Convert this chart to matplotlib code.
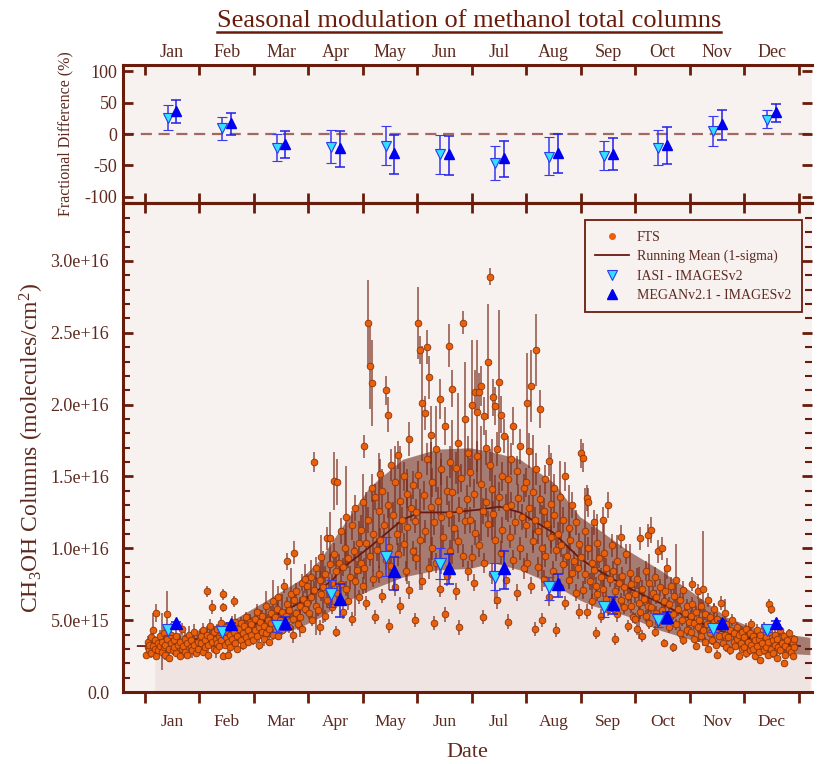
import numpy as np
import matplotlib
matplotlib.use("Agg")
import matplotlib.pyplot as plt
from matplotlib.lines import Line2D
from matplotlib.ticker import FixedLocator, FuncFormatter, MultipleLocator

plt.rcParams['font.family'] = ['Liberation Serif', 'DejaVu Serif']
plt.rcParams['mathtext.fontset'] = 'custom'
plt.rcParams['mathtext.rm'] = 'Liberation Serif'
plt.rcParams['mathtext.it'] = 'Liberation Serif:italic'
plt.rcParams['axes.unicode_minus'] = False

months = ['Jan', 'Feb', 'Mar', 'Apr', 'May', 'Jun',
          'Jul', 'Aug', 'Sep', 'Oct', 'Nov', 'Dec']
month_pos = np.arange(12) + 0.5

# FTS total columns: (day of year, column [1e15 molec/cm2], 1-sigma error [1e15])
fts_jan = [(1,2.6,0.2),(2,3.1,0.3),(2,3.5,0.4),(3,2.9,0.2),(3,3.3,0.5),(4,3.8,0.3),(4,2.7,0.3),(5,3.2,0.2),
           (5,4.3,1.2),(6,3.0,0.4),(6,3.6,0.3),(7,2.5,0.2),(7,5.5,0.6),(8,3.4,0.3),(8,2.9,0.5),(9,3.9,0.4),
           (9,3.2,0.2),(10,2.8,0.3),(10,3.5,2.0),(11,3.1,0.3),(11,4.1,0.5),(12,2.6,0.4),(12,3.3,0.3),(13,5.4,1.6),
           (13,3.7,0.6),(14,3.0,0.2),(14,2.4,0.3),(15,3.4,0.4),(15,4.0,0.8),(16,2.9,0.3),(17,3.6,0.3),(17,3.1,0.5),
           (18,2.7,0.2),(18,3.9,0.4),(19,3.3,0.3),(20,2.5,0.3),(20,3.5,0.6),(21,4.4,0.4),(21,3.0,0.3),(22,3.2,0.2),
           (23,2.8,0.4),(23,3.7,0.5),(24,3.4,0.3),(24,2.6,0.2),(25,4.0,0.6),(26,3.1,0.3),(26,3.6,0.4),(27,2.9,0.5),
           (28,3.3,0.3),(28,4.2,0.5),(29,2.7,0.2),(30,3.5,0.4),(30,3.0,0.3),(31,3.8,0.6)]
fts_feb = [(32,3.4,0.3),(32,3.9,0.4),(33,2.8,0.3),(33,4.3,0.5),(34,3.6,0.3),(34,3.1,0.2),(35,7.0,0.4),(35,4.0,0.6),
           (36,3.3,0.3),(36,2.6,0.4),(37,3.8,0.3),(37,4.6,0.5),(38,5.9,0.5),(38,3.5,0.3),(39,3.0,0.3),(39,4.2,0.4),
           (40,3.7,0.2),(40,2.9,0.5),(41,4.4,0.3),(41,3.4,0.3),(42,3.9,0.6),(42,3.2,0.3),(43,4.8,0.4),(43,3.6,0.3),
           (44,6.8,0.4),(44,5.9,0.3),(44,2.5,0.3),(45,4.1,0.5),(45,3.3,0.2),(46,3.8,0.3),(46,4.5,0.4),(47,2.6,0.3),
           (47,3.5,0.5),(48,4.0,0.3),(48,3.1,0.4),(49,4.7,0.6),(49,3.7,0.3),(50,6.3,0.4),(50,4.2,0.3),(51,3.4,0.3),
           (51,4.9,0.5),(52,3.9,0.4),(52,3.0,0.3),(53,4.4,0.3),(54,3.6,0.6),(54,4.8,0.4),(55,4.1,0.3),(55,3.3,0.4),
           (56,4.6,0.5),(57,3.8,0.3),(57,5.2,0.4),(58,4.3,0.3),(58,3.5,0.3),(59,4.9,0.5)]
fts_mar = [(60,4.0,0.4),(60,4.7,0.5),(61,3.6,0.3),(62,5.1,0.6),(62,4.3,0.3),(63,3.9,0.4),(63,5.6,0.5),(64,4.5,0.3),
           (64,3.3,0.4),(65,4.9,0.8),(66,4.2,0.3),(66,5.3,0.4),(67,3.7,0.5),(67,4.6,0.3),(68,6.0,1.0),(68,4.1,0.3),
           (69,5.0,0.4),(70,4.4,0.6),(70,3.5,0.3),(71,5.5,0.5),(71,4.8,0.3),(72,6.3,1.5),(72,4.0,0.4),(73,5.2,0.3),
           (74,4.6,0.5),(74,5.8,0.4),(75,3.9,0.3),(75,6.6,0.8),(76,5.0,0.4),(77,4.3,0.3),(77,5.6,1.2),(78,7.4,0.5),
           (78,4.8,0.4),(79,5.3,0.3),(80,9.1,0.6),(80,6.1,0.5),(81,4.5,0.4),(81,5.7,0.3),(82,6.8,1.8),(83,5.1,0.4),
           (83,4.0,0.6),(84,9.7,0.8),(84,6.4,0.5),(85,5.5,0.3),(85,7.0,0.6),(86,4.7,0.4),(87,6.0,0.5),(87,5.2,1.4),
           (88,7.6,0.6),(88,4.4,0.3),(89,6.5,0.5),(90,5.8,0.4),(90,7.9,1.0)]
fts_apr = [(91,6.2,0.5),(91,7.4,0.8),(92,5.5,0.4),(93,8.0,1.2),(93,6.6,0.5),(94,5.0,0.4),(95,16.0,0.7),(95,7.1,0.6),
           (96,6.0,2.0),(96,8.6,0.8),(97,5.7,0.4),(98,7.8,0.6),(98,4.5,0.5),(99,9.4,1.5),(99,6.8,0.5),(100,7.3,2.5),
           (101,5.3,0.4),(101,8.2,0.6),(102,10.7,0.8),(102,6.4,0.5),(103,7.0,1.0),(104,10.7,1.8),(104,8.9,0.7),
           (105,5.9,0.5),(105,7.6,0.6),(106,14.7,2.0),(106,9.6,0.8),(107,4.2,0.4),(107,8.4,1.0),(108,14.6,1.6),
           (108,6.9,0.5),(109,9.0,0.6),(110,7.5,1.4),(110,11.2,0.9),(111,5.6,0.5),(111,8.7,0.6),(112,10.0,1.2),
           (113,7.2,0.5),(113,12.2,3.5),(114,9.3,0.7),(114,6.3,0.6),(115,8.0,0.8),(116,11.6,1.0),(116,5.1,0.5),
           (117,9.8,0.7),(118,7.7,2.4),(118,12.8,0.9),(119,8.5,0.6),(120,10.4,1.5),(120,6.6,0.5)]
fts_may = [(121,9.0,0.8),(121,11.3,1.0),(122,7.4,0.6),(122,13.2,2.0),(123,17.1,0.8),(123,8.6,0.7),(124,10.4,3.5),
           (124,6.2,0.5),(125,12.0,0.9),(125,25.7,3.0),(126,22.7,3.0),(126,9.5,0.7),(127,21.5,3.0),(127,14.2,1.0),
           (128,7.9,0.6),(128,11.0,2.6),(129,5.2,0.5),(129,13.6,0.9),(130,9.9,0.8),(131,12.6,4.0),(131,8.2,0.6),
           (132,15.2,1.0),(132,10.6,0.8),(133,6.7,0.5),(133,14.0,1.5),(134,11.6,0.8),(135,21.0,1.0),(135,9.2,0.7),
           (136,19.3,1.2),(136,13.0,0.9),(137,4.6,0.5),(137,10.1,3.0),(138,15.8,1.1),(138,8.8,0.7),(139,12.3,0.9),
           (140,7.3,0.6),(140,14.6,2.5),(141,11.0,0.8),(142,16.5,1.0),(142,9.6,0.8),(143,13.3,3.8),(143,6.0,0.6),
           (144,12.0,0.9),(145,10.3,0.8),(145,15.0,1.0),(146,8.4,0.7),(147,13.8,1.0),(147,11.5,4.0),(148,17.6,1.2),
           (148,7.1,0.6),(149,12.8,0.9),(150,9.8,0.7),(150,14.4,1.0),(151,5.0,0.5),(151,11.9,0.8)]
fts_jun = [(152,12.5,0.9),(152,9.3,0.8),(153,25.7,2.5),(153,15.1,1.0),(154,23.8,1.0),(154,10.6,3.5),(155,20.1,4.0),
           (155,7.7,0.6),(156,13.7,1.0),(157,19.4,1.2),(157,11.2,0.8),(158,24.0,1.2),(158,16.2,1.1),(159,21.9,1.5),
           (159,8.6,0.7),(160,17.9,2.0),(160,12.9,4.5),(161,10.0,0.8),(161,14.6,1.0),(162,4.8,0.5),(162,11.8,0.9),
           (163,16.9,3.0),(163,9.0,0.7),(164,13.3,1.0),(165,20.4,1.4),(165,7.2,0.6),(166,15.5,1.1),(166,12.2,4.0),
           (167,10.8,0.8),(168,18.5,1.3),(168,5.4,0.5),(169,14.0,1.0),(169,8.1,0.7),(170,24.1,1.5),(170,12.4,0.9),
           (171,16.0,1.1),(171,9.8,0.8),(172,21.1,1.3),(172,13.9,5.0),(173,11.4,0.9),(174,7.0,0.6),(174,15.6,1.1),
           (175,17.3,3.5),(175,10.5,0.8),(176,12.7,0.9),(176,4.5,0.5),(177,14.9,1.0),(178,25.7,0.8),(178,9.5,0.8),
           (179,19.0,4.0),(179,11.9,0.9),(180,13.4,1.0),(181,16.6,1.2),(181,8.4,0.7)]
fts_jul = [(182,12.0,0.9),(182,15.3,1.0),(183,9.4,0.8),(183,20.0,4.5),(184,13.8,1.0),(184,7.6,0.6),(185,20.9,1.5),
           (185,11.1,0.9),(186,19.5,5.0),(186,16.4,1.1),(187,20.9,1.3),(187,10.2,0.8),(188,21.3,1.4),(188,14.5,4.0),
           (189,12.6,0.9),(189,5.2,0.5),(190,19.2,1.3),(190,9.0,0.7),(191,17.0,1.2),(191,13.2,1.0),(192,23.0,4.0),
           (192,11.7,0.9),(193,28.9,0.6),(193,15.8,1.1),(194,8.2,0.7),(194,14.1,3.5),(195,20.5,1.3),(195,12.4,0.9),
           (196,19.9,1.3),(196,10.6,4.5),(197,16.9,1.2),(197,6.4,0.6),(198,21.6,5.0),(198,13.6,1.0),(199,19.3,1.3),
           (199,9.7,0.8),(200,15.0,1.0),(200,11.3,0.9),(201,17.8,1.2),(202,12.9,0.9),(202,7.8,0.6),(203,14.8,3.0),
           (203,4.9,0.5),(204,10.8,0.8),(205,16.2,1.1),(205,13.0,0.9),(206,9.2,0.7),(206,18.5,1.3),(207,11.8,0.9),
           (208,15.4,1.0),(208,6.9,0.6),(209,13.5,1.0),(210,10.0,0.8),(210,17.1,1.2),(211,12.2,0.9),(212,14.2,1.0),
           (212,8.6,0.7)]
fts_aug = [(213,11.6,0.9),(213,14.6,1.0),(214,9.0,0.7),(214,20.1,3.5),(215,12.8,0.9),(215,16.8,1.2),(216,7.4,0.6),
           (216,21.3,2.5),(217,10.5,0.8),(217,13.9,4.0),(218,4.4,0.5),(218,12.0,0.9),(219,23.8,2.5),(219,15.5,1.1),
           (220,8.7,0.7),(220,11.2,0.9),(221,19.7,1.3),(221,13.4,1.0),(222,5.0,0.5),(222,10.0,3.0),(223,12.6,0.9),
           (223,7.9,0.6),(224,14.8,1.0),(224,9.5,0.8),(225,11.7,0.9),(226,16.1,1.1),(226,6.6,0.6),(227,10.8,0.8),
           (227,13.1,3.5),(228,8.4,0.7),(229,12.3,0.9),(229,14.2,1.0),(230,9.9,0.8),(230,4.3,0.5),(231,11.0,0.8),
           (232,7.3,0.6),(232,13.6,2.5),(233,10.2,0.8),(234,8.9,0.7),(234,12.0,0.9),(235,15.0,1.0),(235,6.2,0.5),
           (236,9.5,0.7),(237,11.4,3.0),(237,7.8,0.6),(238,10.6,0.8),(239,8.3,0.7),(239,13.0,0.9),(240,9.1,0.7),
           (241,6.9,0.6),(241,11.8,0.9),(242,8.6,0.7),(243,10.3,0.8),(243,5.6,0.5)]
fts_sep = [(244,9.4,0.8),(244,16.6,1.0),(245,7.1,0.6),(245,16.3,1.0),(246,11.2,3.0),(246,8.2,0.7),(247,13.5,0.9),
           (247,5.6,0.5),(248,13.2,1.0),(248,10.0,0.8),(249,7.7,0.6),(250,9.0,2.5),(250,6.3,0.5),(251,11.8,0.9),
           (251,8.5,0.7),(252,4.1,0.4),(252,7.4,0.6),(253,10.4,2.0),(253,6.8,0.5),(254,9.3,0.7),(255,8.0,0.6),
           (255,5.3,0.5),(256,12.0,0.9),(256,7.2,0.6),(257,9.7,2.4),(258,6.5,0.5),(258,8.6,0.7),(259,13.0,0.9),
           (259,5.8,0.5),(260,7.9,0.6),(261,10.2,0.8),(261,6.1,0.5),(262,8.4,0.7),(263,3.7,0.4),(263,7.0,0.6),
           (264,9.1,1.8),(264,5.4,0.5),(265,7.6,0.6),(266,6.4,0.5),(266,10.8,0.8),(267,8.1,0.6),(268,5.9,0.5),
           (268,7.3,0.6),(269,9.6,0.7),(270,6.7,0.5),(270,4.6,0.4),(271,8.3,2.0),(272,6.0,0.5),(272,7.5,0.6),
           (273,5.2,0.4)]
fts_oct = [(274,6.8,0.6),(274,5.1,0.4),(275,7.9,0.7),(275,4.4,0.4),(276,6.2,2.5),(277,10.7,0.8),(277,5.6,0.5),
           (278,7.2,0.6),(278,3.9,0.4),(279,6.5,0.5),(280,8.4,0.7),(280,5.3,0.4),(281,10.9,0.8),(281,6.0,0.5),
           (282,4.8,0.4),(282,7.6,2.0),(283,11.3,0.9),(283,5.9,0.5),(284,6.9,0.5),(285,4.2,0.4),(285,8.0,0.7),
           (286,5.5,0.5),(286,6.6,0.5),(287,9.8,0.8),(287,4.9,0.4),(288,7.3,0.6),(289,10.0,0.8),(289,5.7,0.5),
           (290,3.4,0.3),(290,6.3,0.5),(291,7.0,1.8),(292,5.2,0.4),(292,8.6,0.7),(293,4.5,0.4),(293,6.1,0.5),
           (294,7.4,0.6),(295,5.4,0.4),(295,3.1,0.3),(296,6.7,0.5),(297,4.7,0.4),(297,7.8,2.5),(298,5.8,0.5),
           (299,4.1,0.4),(299,6.4,0.5),(300,5.0,0.4),(301,7.1,0.6),(301,3.6,0.3),(302,5.5,0.4),(303,4.3,0.4),
           (303,6.0,0.5),(304,4.9,0.4)]
fts_nov = [(305,5.3,0.4),(305,4.2,0.3),(306,7.5,0.5),(306,6.1,0.5),(307,3.7,0.3),(307,4.8,0.4),(308,5.6,0.4),
           (308,3.2,0.3),(309,7.0,0.5),(309,4.5,0.4),(310,5.0,1.5),(311,3.9,0.3),(311,6.0,0.5),(312,7.2,4.0),
           (312,4.3,0.3),(313,5.4,0.4),(313,3.5,0.3),(314,4.7,0.4),(315,6.4,0.5),(315,3.0,0.3),(316,4.1,0.3),
           (316,5.2,0.4),(317,3.6,0.3),(318,4.9,1.2),(318,5.8,0.4),(319,3.3,0.3),(319,4.4,0.3),(320,2.6,0.3),
           (320,5.1,0.4),(321,3.9,0.3),(322,4.6,0.4),(322,6.2,0.5),(323,3.4,0.3),(324,4.0,0.3),(324,5.5,1.0),
           (325,3.1,0.3),(325,4.7,0.4),(326,3.8,0.3),(327,4.3,0.3),(327,2.9,0.3),(328,5.0,0.4),(329,3.5,0.3),
           (329,4.1,0.3),(330,3.2,0.3),(331,4.5,0.4),(331,3.7,0.3),(332,2.5,0.3),(332,4.0,0.3),(333,3.4,0.3),
           (334,4.2,0.4),(334,3.0,0.3)]
fts_dec = [(335,3.8,0.3),(335,3.1,0.3),(336,4.4,0.4),(336,2.7,0.3),(337,3.5,0.3),(338,4.1,0.3),(338,2.9,0.3),
           (339,3.3,0.3),(339,4.7,0.4),(340,3.0,0.3),(340,3.9,0.3),(341,2.5,0.3),(341,3.6,0.3),(342,4.3,0.4),
           (342,3.2,0.3),(343,2.8,0.3),(343,3.7,0.3),(344,4.0,0.3),(344,2.2,0.2),(345,3.4,0.3),(346,2.9,0.3),
           (346,4.5,0.4),(347,3.1,0.3),(347,3.8,0.3),(348,2.6,0.3),(348,3.5,0.3),(349,6.1,0.4),(349,4.2,0.3),
           (350,5.8,0.4),(350,3.0,0.3),(351,3.6,0.3),(351,2.7,0.3),(352,3.3,0.3),(352,4.0,0.3),(353,2.4,0.3),
           (353,3.7,0.3),(354,3.1,0.3),(355,4.3,0.4),(355,2.9,0.3),(356,3.4,0.3),(357,3.9,0.3),(357,2.0,0.2),
           (358,3.2,0.3),(358,2.6,0.3),(359,3.6,0.3),(360,3.0,0.3),(360,4.1,0.3),(361,2.8,0.3),(362,3.4,0.3),
           (362,2.5,0.3),(363,3.1,0.3),(363,3.7,0.3)]

# running mean and 1-sigma envelope (x in months, columns in 1e16)
mean_month = [-0.13, 0.18, 0.70, 1.61, 2.24, 2.84, 3.45, 3.58, 4.13, 4.73, 5.05, 5.65, 6.15, 6.51,
              6.88, 7.49, 7.98, 8.22, 8.84, 9.45, 10.06, 10.68, 11.28, 12.02]
mean_col = [0.32, 0.32, 0.35, 0.42, 0.50, 0.62, 0.78, 0.85, 1.01, 1.20, 1.25, 1.25, 1.27, 1.29,
            1.25, 1.11, 0.93, 0.87, 0.73, 0.62, 0.50, 0.41, 0.36, 0.32]
band_month = [0.18, 0.70, 1.61, 2.24, 2.84, 3.21, 3.58, 4.13, 4.73, 5.36, 5.96, 6.39, 6.88,
              7.49, 7.98, 8.22, 8.84, 9.45, 10.06, 10.68, 11.28, 12.2]
band_lo = [0.27, 0.27, 0.34, 0.38, 0.45, 0.52, 0.61, 0.71, 0.80, 0.85, 0.86, 0.90, 0.85,
           0.75, 0.64, 0.60, 0.53, 0.43, 0.36, 0.31, 0.28, 0.26]
band_hi = [0.38, 0.40, 0.50, 0.64, 0.78, 0.92, 1.13, 1.43, 1.62, 1.69, 1.70, 1.67, 1.62,
           1.46, 1.22, 1.16, 0.99, 0.85, 0.69, 0.52, 0.43, 0.38]

# monthly model columns (1e16) with error range
iasi_col = [0.43, 0.42, 0.46, 0.68, 0.94, 0.89, 0.80, 0.73, 0.59, 0.50, 0.44, 0.43]
iasi_lo = [0.40, 0.40, 0.42, 0.59, 0.81, 0.79, 0.71, 0.64, 0.52, 0.45, 0.42, 0.415]
iasi_hi = [0.45, 0.44, 0.49, 0.78, 1.08, 1.00, 0.90, 0.80, 0.63, 0.55, 0.46, 0.445]
megan_col = [0.48, 0.47, 0.48, 0.65, 0.84, 0.86, 0.86, 0.75, 0.61, 0.52, 0.48, 0.48]
megan_lo = [0.45, 0.44, 0.43, 0.52, 0.71, 0.75, 0.72, 0.66, 0.54, 0.47, 0.465, 0.465]
megan_hi = [0.49, 0.48, 0.52, 0.75, 0.94, 0.96, 0.98, 0.82, 0.66, 0.56, 0.495, 0.495]

# fractional difference to FTS (%)
iasi_diff = [26, 9, -22, -20, -19, -32, -46, -36, -35, -22, 5, 23]
iasi_dlo = [7, -9.5, -43, -46, -50, -63, -73, -66, -58, -50, -19, 9.5]
iasi_dhi = [47, 27, -0.5, 7, 13, -1.6, -19, -4, -11, 7, 29, 38]
megan_diff = [37, 18, -16, -23, -30, -32, -38, -30, -32, -17, 16, 35]
megan_dlo = [18, -1.6, -38, -53, -63, -65, -68, -62, -57, -48, -10, 19.5]
megan_dhi = [55, 34, 5, 5, -1.6, -3, -11, 0, -7, 11, 39, 48]

fts = np.array(fts_jan + fts_feb + fts_mar + fts_apr + fts_may + fts_jun +
               fts_jul + fts_aug + fts_sep + fts_oct + fts_nov + fts_dec)
fts_x = (fts[:, 0] - 0.5) / 365.0 * 12.0
fts_y = fts[:, 1] * 1e15
fts_e = fts[:, 2] * 1e15

DARK = '#6a1c0b'
TXT = '#5e2a1f'
BG = '#f7f1ef'
OFF = 0.08


def sci_label(v, pos):
    if v == 0:
        return '0.0'
    return '%.1e' % v


fig = plt.figure(figsize=(8.17, 7.64), dpi=100)
ax1 = fig.add_axes([0.1506, 0.7343, 0.8433, 0.1806])
ax2 = fig.add_axes([0.1506, 0.0942, 0.8433, 0.6401])

for ax in (ax1, ax2):
    ax.set_facecolor(BG)
    ax.set_xlim(-0.40, 12.24)
    ax.spines['right'].set_visible(False)
    for s in ('left', 'top', 'bottom'):
        ax.spines[s].set_color(DARK)
        ax.spines[s].set_linewidth(2.2)

# ---- top panel: fractional differences
ax1.axhline(0, color='#a06a60', lw=1.6, ls=(0, (5, 3)), zorder=1)
m = np.array(month_pos)
ax1.errorbar(m - OFF, iasi_diff,
             yerr=[np.array(iasi_diff) - np.array(iasi_dlo), np.array(iasi_dhi) - np.array(iasi_diff)],
             fmt='v', ms=7, mfc='#33e0ff', mec='#2a3cf0', mew=0.8, ecolor='#3a3af0',
             elinewidth=1.1, capsize=3.5, capthick=1.1, zorder=3)
ax1.errorbar(m + OFF, megan_diff,
             yerr=[np.array(megan_diff) - np.array(megan_dlo), np.array(megan_dhi) - np.array(megan_diff)],
             fmt='^', ms=7, mfc='#0000f0', mec='#0000f0', ecolor='#2020e8',
             elinewidth=1.1, capsize=3.5, capthick=1.1, zorder=3)
ax1.set_ylim(-110, 110)
ax1.set_yticks([-100, -50, 0, 50, 100])
ax1.tick_params(axis='y', which='both', direction='in', left=True, right=True, length=7, width=2,
                color=DARK, labelsize=13, labelcolor=TXT, pad=4)
ax1.xaxis.set_major_locator(FixedLocator(range(13)))
ax1.xaxis.set_minor_locator(FixedLocator(month_pos))
ax1.set_xticklabels([], minor=False)
ax1.set_xticklabels(months, minor=True)
ax1.tick_params(axis='x', which='major', direction='in', top=True, bottom=True, length=7, width=2,
                color=DARK, labeltop=False, labelbottom=False)
ax1.tick_params(axis='x', which='minor', top=True, bottom=False, length=0, labeltop=True,
                labelbottom=False, labelsize=13, labelcolor=TXT, pad=3)
ax1.set_ylabel('Fractional Difference (%)', fontsize=11.5, color=TXT, labelpad=8)

# ---- bottom panel: columns
ax2.fill_between(band_month, 0, np.array(band_lo) * 1e16, color='#efe4e1', lw=0, zorder=0.5)
ax2.fill_between(band_month, np.array(band_lo) * 1e16, np.array(band_hi) * 1e16,
                 color='#a67b71', lw=0, zorder=1)
ax2.errorbar(fts_x, fts_y, yerr=fts_e, fmt='none', ecolor='#7a2c1c', elinewidth=1.2,
             alpha=0.75, zorder=2)
ax2.plot(mean_month, np.array(mean_col) * 1e16, color='#6a1a0c', lw=1.3, zorder=2.5)
ax2.plot(fts_x, fts_y, 'o', ms=4.8, mfc='#e8600c', mec='#8f3306', mew=0.6, ls='none', zorder=3)

ax2.errorbar(m - OFF, np.array(iasi_col) * 1e16,
             yerr=[(np.array(iasi_col) - np.array(iasi_lo)) * 1e16, (np.array(iasi_hi) - np.array(iasi_col)) * 1e16],
             fmt='v', ms=8, mfc='#33e0ff', mec='#2a3cf0', mew=0.8, ecolor='#3a3af0',
             elinewidth=1.1, capsize=3.5, capthick=1.1, zorder=4)
ax2.errorbar(m + OFF, np.array(megan_col) * 1e16,
             yerr=[(np.array(megan_col) - np.array(megan_lo)) * 1e16, (np.array(megan_hi) - np.array(megan_col)) * 1e16],
             fmt='^', ms=8, mfc='#0000f0', mec='#0000f0', ecolor='#2020e8',
             elinewidth=1.1, capsize=3.5, capthick=1.1, zorder=4)

ax2.set_ylim(0, 3.403e16)
ax2.yaxis.set_major_locator(MultipleLocator(0.5e16))
ax2.yaxis.set_minor_locator(MultipleLocator(0.1e16))
ax2.yaxis.set_major_formatter(FuncFormatter(sci_label))
ax2.tick_params(axis='y', which='major', direction='in', left=True, right=True, length=7, width=2,
                color=DARK, labelsize=13, labelcolor=TXT, pad=10)
ax2.tick_params(axis='y', which='minor', direction='in', left=True, right=True, length=5, width=1.5,
                color=DARK)
ax2.xaxis.set_major_locator(FixedLocator(range(13)))
ax2.xaxis.set_minor_locator(FixedLocator(month_pos))
ax2.set_xticklabels([], minor=False)
ax2.set_xticklabels(months, minor=True)
ax2.tick_params(axis='x', which='major', direction='out', top=False, bottom=True, length=8, width=2,
                color=DARK)
ax2.tick_params(axis='x', which='minor', length=0, labelsize=12.5, labelcolor=TXT, pad=16)
sec = ax2.secondary_xaxis('top')
sec.set_xticks(range(13))
sec.tick_params(direction='in', length=7, width=2, color=DARK, labeltop=False)
sec.spines['top'].set_color(DARK)
sec.spines['top'].set_linewidth(2.2)

ax2.set_xlabel('Date', fontsize=16, color=TXT, labelpad=9)
ax2.set_ylabel('CH$_3$OH Columns (molecules/cm$^2$)', fontsize=17, color=TXT, labelpad=3)

handles = [
    Line2D([], [], ls='none', marker='o', ms=4, mfc='#e8600c', mec='#e8600c'),
    Line2D([], [], color='#6a1a0c', lw=1.3),
    Line2D([], [], ls='none', marker='v', ms=7, mfc='#33e0ff', mec='#2a3cf0', mew=0.8),
    Line2D([], [], ls='none', marker='^', ms=7, mfc='#0000f0', mec='#0000f0'),
]
labels = ['FTS', 'Running Mean (1-sigma)', 'IASI - IMAGESv2', 'MEGANv2.1 - IMAGESv2']
leg = ax2.legend(handles, labels, loc='upper right', bbox_to_anchor=(0.985, 0.965), fontsize=10,
                 frameon=True, fancybox=False, handlelength=2.4, labelspacing=0.45,
                 borderpad=0.75, handletextpad=0.6, borderaxespad=0)
for t in leg.get_texts():
    t.set_color(TXT)
leg.get_frame().set_edgecolor(DARK)
leg.get_frame().set_linewidth(1.3)
leg.get_frame().set_facecolor(BG)
leg.get_frame().set_alpha(1)

title = fig.text(0.574, 0.972, 'Seasonal modulation of methanol total columns',
                 ha='center', va='center', fontsize=19, color=DARK)
fig.canvas.draw()
bb = title.get_window_extent().transformed(fig.transFigure.inverted())
fig.add_artist(Line2D([bb.x0, bb.x1], [bb.y0 + 0.001, bb.y0 + 0.001], color=DARK, lw=1.8,
                      transform=fig.transFigure))

fig.savefig('out.png', dpi=100, facecolor='white')
